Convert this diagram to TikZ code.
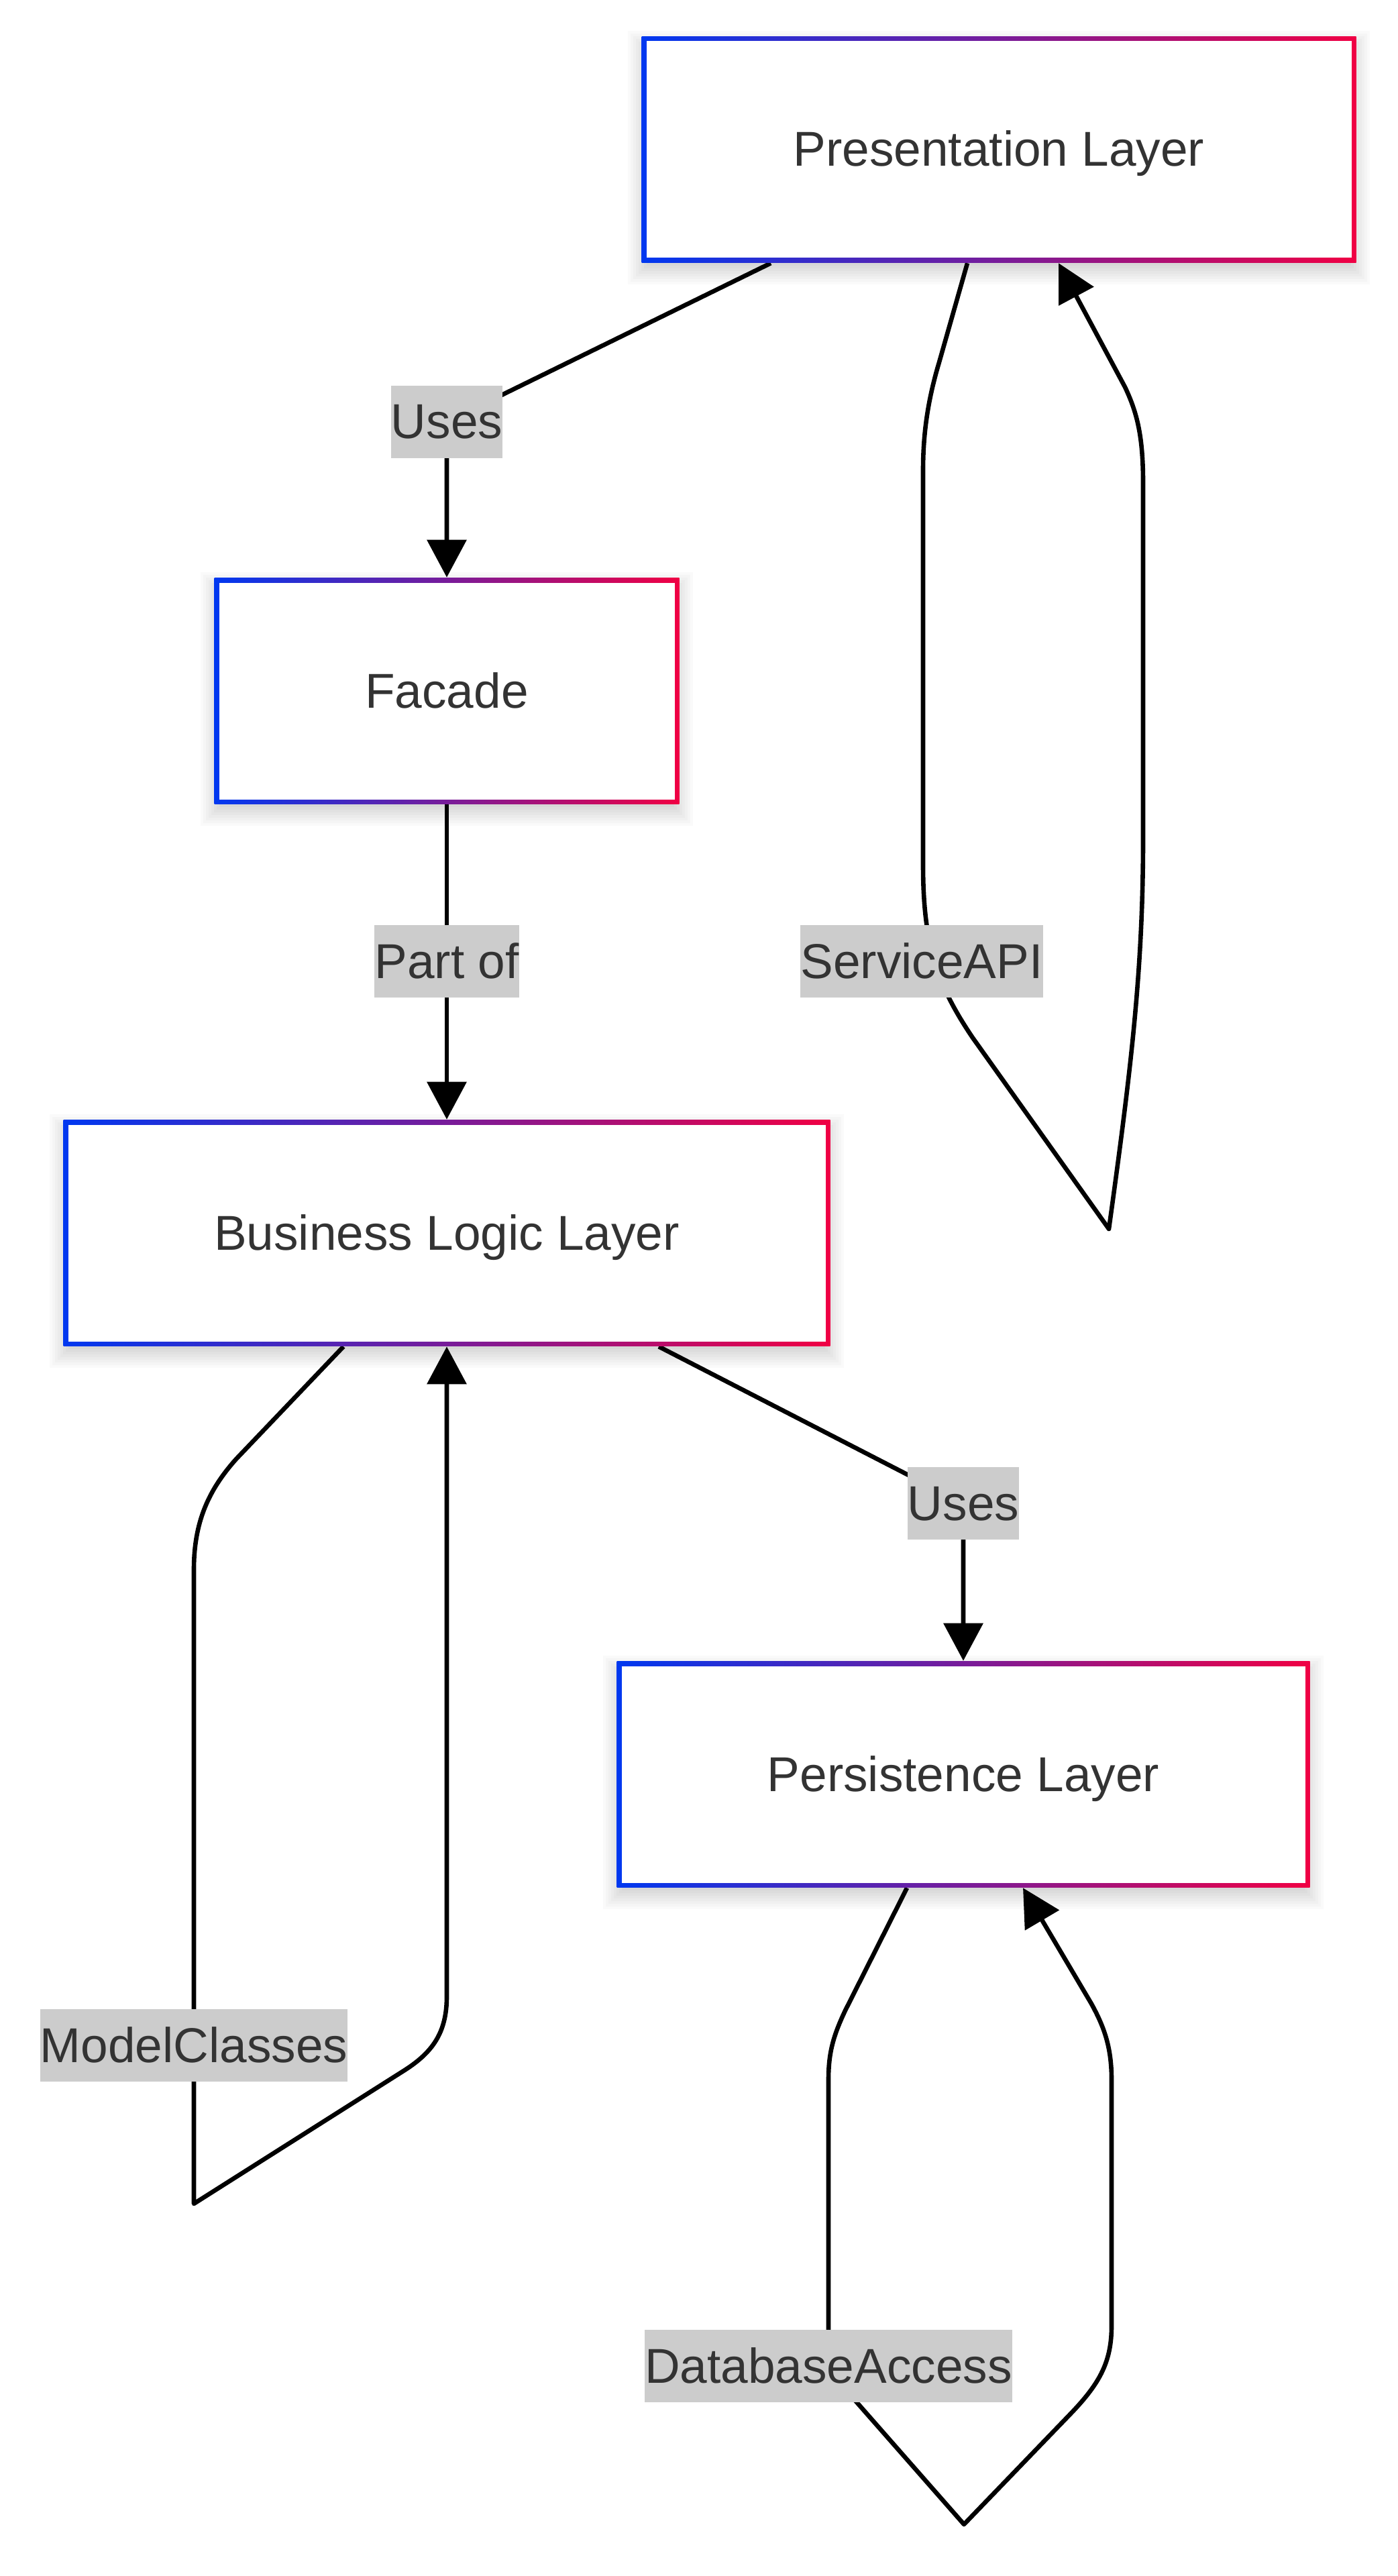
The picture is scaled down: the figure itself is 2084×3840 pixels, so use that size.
\documentclass[tikz,border=0pt]{standalone}
\usepackage{fontspec}
\setmainfont{Liberation Sans}
\usetikzlibrary{arrows.meta,calc}
\definecolor{bl}{RGB}{0,56,240}
\definecolor{rd}{RGB}{240,0,68}
\definecolor{txt}{RGB}{51,51,51}
\definecolor{lblgray}{RGB}{204,204,204}
\newcommand\diafont{\fontsize{18.25pt}{22pt}\selectfont}
\pgfdeclarelayer{bg}
\pgfdeclarelayer{edges}
\pgfsetlayers{bg,edges,main}
\tikzset{
  layerbox/.style={rectangle, inner sep=0pt, minimum height=84.25pt, text=txt, font=\diafont, fill=white,
    text height=16pt, text depth=3.5pt,
    path picture={
      \shade[left color=bl, right color=rd] (path picture bounding box.south west) rectangle (path picture bounding box.north east);
      \fill[white] ([shift={(1.75pt,1.75pt)}]path picture bounding box.south west) rectangle ([shift={(-1.75pt,-1.75pt)}]path picture bounding box.north east);
    }},
  lbl/.style={rectangle, fill=lblgray, text=txt, font=\diafont, inner xsep=0pt, inner ysep=0pt, minimum height=27pt,
    text height=16pt, text depth=3.5pt},
  conn/.style={draw=black, line width=1.65pt, line join=round},
  tip/.style={-{Triangle[length=14pt,width=14.5pt]}},
}
\newcommand\boxshadow[1]{%
  \foreach \r in {0,...,9}{
    \fill[black,opacity=0.02] ([shift={({(4-\r)*1pt},{(4-\r)*1pt-3pt})}]#1.south west) rectangle ([shift={({(\r-4)*1pt},{(\r-4)*1pt-3pt})}]#1.north east);
  }}
\begin{document}
\begin{tikzpicture}[x=0.25pt,y=-0.25pt]
  \useasboundingbox (0,0) rectangle (2084,3840);
  \begin{pgfonlayer}{bg}
    \fill[white] (0,0) rectangle (2084,3840);
  \end{pgfonlayer}

  % boxes
  \node[layerbox, minimum width=266.25pt] (pres) at (1489,223) {Presentation Layer};
  \node[layerbox, minimum width=173.25pt] (fac) at (666,1030) {Facade};
  \node[layerbox, minimum width=285.75pt] (bll) at (666,1838) {Business Logic Layer};
  \node[layerbox, minimum width=258.25pt] (pers) at (1436,2645) {Persistence Layer};

  \begin{pgfonlayer}{bg}
    \boxshadow{pres}
    \boxshadow{fac}
    \boxshadow{bll}
    \boxshadow{pers}
  \end{pgfonlayer}

  % labels
  \node[lbl] (u1) at (666,629) {Uses};
  \node[lbl] (po) at (666,1433) {Part of};
  \node[lbl] (sapi) at (1374,1433) {ServiceAPI};
  \node[lbl] (u2) at (1436,2241) {Uses};
  \node[lbl] (mc) at (289,3049) {ModelClasses};
  \node[lbl] (dba) at (1235,3527) {DatabaseAccess};

  \begin{pgfonlayer}{edges}
    % Presentation -> Facade
    \draw[conn,tip] ([xshift=-85pt]pres.south) -- (u1.center) -- (fac.north);
    % Facade -> Business Logic
    \draw[conn,tip] (fac.south) -- (po.center) -- (bll.north);
    % ServiceAPI self loop
    \draw[conn,tip] ([xshift=-11.75pt]pres.south) -- (1400,540)
      .. controls (1385,590) and (1376,640) .. (1376,700) -- (1376,1290)
      .. controls (1376,1410) and (1398,1470) .. (1450,1547) -- (1653,1832)
      .. controls (1685,1600) and (1704,1450) .. (1704,1250) -- (1704,720)
      .. controls (1704,650) and (1695,615) .. (1677,577) -- ([xshift=22.25pt]pres.south);
    % Business Logic -> Persistence
    \draw[conn,tip] ([xshift=79pt]bll.south) -- (u2.center) -- (pers.north);
    % ModelClasses self loop
    \draw[conn,tip] ([xshift=-38.5pt]bll.south) -- (352,2175)
      .. controls (310,2222) and (289,2270) .. (289,2340) -- (289,3285) -- (600,3088)
      .. controls (645,3060) and (666,3030) .. (666,2976) -- (bll.south);
    % DatabaseAccess self loop
    \draw[conn,tip] ([xshift=-21pt]pers.south) -- (1260,2997)
      .. controls (1242,3035) and (1235,3060) .. (1235,3100) -- (1235,3470)
      .. controls (1235,3530) and (1245,3545) .. (1278,3582) -- (1437,3763) -- (1597,3597)
      .. controls (1640,3552) and (1657,3520) .. (1657,3467) -- (1657,3100)
      .. controls (1657,3050) and (1645,3020) .. (1627,2987) -- ([xshift=22.25pt]pers.south);
  \end{pgfonlayer}
\end{tikzpicture}
\end{document}
